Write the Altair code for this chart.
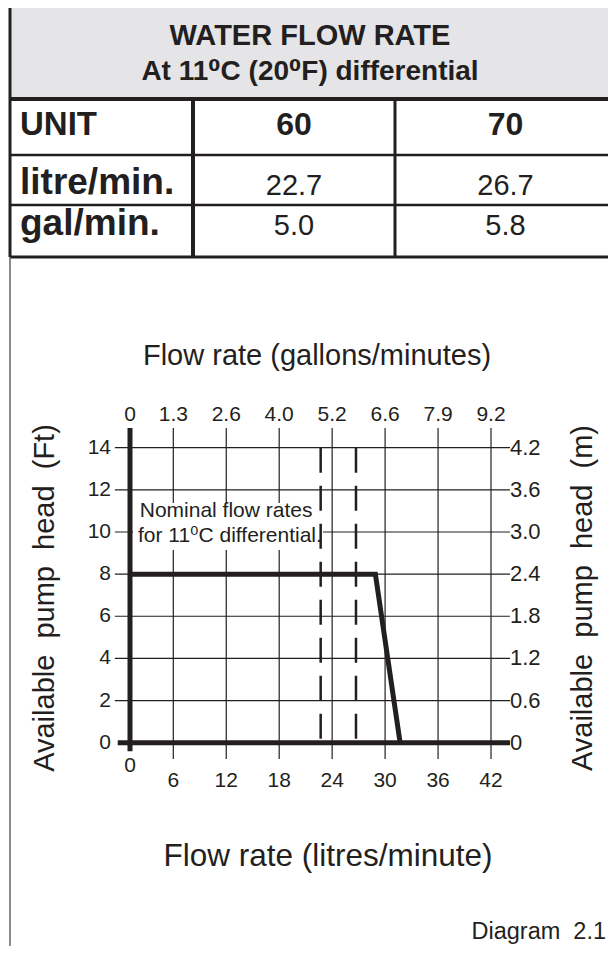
import altair as alt
import pandas as pd

# ---------------- data ----------------
title_lines = ["WATER FLOW RATE", "At 11\u2070C (20\u2070F) differential"]
row_labels = ["UNIT", "litre/min.", "gal/min."]
units = ["60", "70"]
litre_per_min = ["22.7", "26.7"]
gal_per_min = ["5.0", "5.8"]

nominal_lpm = [22.7, 26.7]
note_lines = ["Nominal flow rates", "for 11\u2070C differential."]

litre_ticks = [0, 6, 12, 18, 24, 30, 36, 42]
gallon_labels = ["0", "1.3", "2.6", "4.0", "5.2", "6.6", "7.9", "9.2"]
ft_ticks = [0, 2, 4, 6, 8, 10, 12, 14]
m_labels = ["0", "0.6", "1.2", "1.8", "2.4", "3.0", "3.6", "4.2"]

curve_lpm = [0, 28.9, 31.7]
curve_ft = [8, 8, 0]

# ---------------- style / layout ----------------
INK = "#231f20"
FONT = "Liberation Sans, Arial, DejaVu Sans, sans-serif"

XS = alt.Scale(domain=[0, 6, 42], range=[122, 165.3, 483], zero=False, nice=False)
YS = alt.Scale(domain=[0, 14], range=[734.7, 439.7], zero=False, nice=False)
CS = alt.Scale(domain=[0, 1, 2, 3], range=[2, 185, 387, 608], zero=False, nice=False)
RS = alt.Scale(domain=[0, 1, 2, 3, 4], range=[-2, 91, 147, 197, 249], zero=False, nice=False)

GX0, GX1 = -2.1, 44.15   # grid extent (litres/min)
GY0, GY1 = -0.77, 14.94  # grid extent (ft)


def xq(f, s=XS):
    return alt.X(f, type="quantitative", scale=s, axis=None)


def yq(f, s=YS):
    return alt.Y(f, type="quantitative", scale=s, axis=None)


layers = []

# ---- table ----
band = pd.DataFrame({"c0": [0], "c1": [3], "r0": [0], "r1": [1]})
layers.append(alt.Chart(band).mark_rect(fill="#e5e5e7").encode(
    x=xq("c0", CS), x2="c1:Q", y=yq("r0", RS), y2="r1:Q"))

hlines = pd.DataFrame({"r": [0, 1, 2, 3, 4], "c0": 0, "c1": 3,
                       "w": [3, 4, 2.5, 2.5, 3]})
layers.append(alt.Chart(hlines).mark_rule(color=INK).encode(
    y=yq("r", RS), x=xq("c0", CS), x2="c1:Q",
    strokeWidth=alt.StrokeWidth("w:Q", scale=None)))

vlines = pd.DataFrame({"c": [0, 1, 2], "r0": [0, 1, 1], "r1": [4, 4, 4],
                       "w": [3, 4, 3]})
layers.append(alt.Chart(vlines).mark_rule(color=INK).encode(
    x=xq("c", CS), y=yq("r0", RS), y2="r1:Q",
    strokeWidth=alt.StrokeWidth("w:Q", scale=None)))

panel = pd.DataFrame({"c": [0], "r0": [4], "r1": [4 + 697 / 52]})
layers.append(alt.Chart(panel).mark_rule(color="#666666", strokeWidth=1.5).encode(
    x=xq("c", CS), y=yq("r0", RS), y2="r1:Q"))

tt = pd.DataFrame({"t": title_lines, "y": [37, 72], "s": [29, 28]})
layers.append(alt.Chart(tt).mark_text(font=FONT, fontWeight="bold",
                                      color=INK, align="center", baseline="alphabetic").encode(
    x=alt.value(302), y=alt.Y("y:Q", scale=None), text="t:N",
    size=alt.Size("s:Q", scale=None)))

rl = pd.DataFrame({"t": row_labels, "r": [1.64, 2.78, 3.58], "s": [33, 37, 37], "c": 0})
layers.append(alt.Chart(rl).mark_text(font=FONT, fontWeight="bold",
                                      color=INK, align="left", baseline="alphabetic", dx=10).encode(
    x=xq("c", CS), y=yq("r", RS), text="t:N", size=alt.Size("s:Q", scale=None)))

u = pd.DataFrame({"t": units, "c": [1.5, 2.5], "r": 1.64})
layers.append(alt.Chart(u).mark_text(font=FONT, fontSize=32, fontWeight="bold",
                                     color=INK, align="center", baseline="alphabetic").encode(
    x=xq("c", CS), y=yq("r", RS), text="t:N"))

vals = pd.DataFrame({"t": litre_per_min + gal_per_min, "c": [1.5, 2.5, 1.5, 2.5],
                     "r": [2.79, 2.79, 3.58, 3.58]})
layers.append(alt.Chart(vals).mark_text(font=FONT, fontSize=29, color=INK,
                                        align="center", baseline="alphabetic").encode(
    x=xq("c", CS), y=yq("r", RS), text="t:N"))

# ---- diagram ----
hgrid = pd.DataFrame({"ft": ft_ticks[1:], "x0": GX0, "x1": GX1})
layers.append(alt.Chart(hgrid).mark_rule(color=INK, strokeWidth=1.2).encode(
    x=xq("x0"), x2="x1:Q", y=yq("ft")))

vgrid = pd.DataFrame({"lpm": litre_ticks[1:], "y0": GY0, "y1": GY1})
layers.append(alt.Chart(vgrid).mark_rule(color=INK, strokeWidth=1.2).encode(
    x=xq("lpm"), y=yq("y0"), y2="y1:Q"))

box = pd.DataFrame({"x0": [0.42], "x1": [22.96], "y0": [9.15], "y1": [11.38]})
layers.append(alt.Chart(box).mark_rect(fill="white").encode(
    x=xq("x0"), x2="x1:Q", y=yq("y0"), y2="y1:Q"))

note = pd.DataFrame({"t": note_lines, "x": [1.35, 1.1], "y": [11.0, 9.8]})
layers.append(alt.Chart(note).mark_text(font=FONT, fontSize=21, color=INK,
                                        align="left", baseline="middle").encode(
    x=xq("x"), y=yq("y"), text="t:N"))

dash = pd.DataFrame({"lpm": nominal_lpm, "top": 14, "bot": 0})
layers.append(alt.Chart(dash).mark_rule(color=INK, strokeWidth=2.5,
                                        strokeDash=[25, 13]).encode(
    x=xq("lpm"), y=yq("top"), y2="bot:Q"))

vaxis = pd.DataFrame({"x": [0], "y0": [-0.4], "y1": [GY1]})
layers.append(alt.Chart(vaxis).mark_rule(color=INK, strokeWidth=5).encode(
    x=xq("x"), y=yq("y0"), y2="y1:Q"))

haxis = pd.DataFrame({"y": [0], "x0": [-1.7], "x1": [GX1]})
layers.append(alt.Chart(haxis).mark_rule(color=INK, strokeWidth=5).encode(
    y=yq("y"), x=xq("x0"), x2="x1:Q"))

curve = pd.DataFrame({"lpm": curve_lpm, "ft": curve_ft, "i": range(len(curve_lpm))})
layers.append(alt.Chart(curve).mark_line(color=INK, strokeWidth=5,
                                         strokeJoin="miter").encode(
    x=xq("lpm"), y=yq("ft"), order="i:Q"))

# tick labels
top = pd.DataFrame({"lpm": litre_ticks, "t": gallon_labels})
layers.append(alt.Chart(top).mark_text(font=FONT, fontSize=21, color=INK,
                                       baseline="middle").encode(
    x=xq("lpm"), y=alt.value(407), text="t:N"))

left = pd.DataFrame({"ft": ft_ticks, "t": [str(v) for v in ft_ticks]})
layers.append(alt.Chart(left).mark_text(font=FONT, fontSize=21, color=INK,
                                        align="right", baseline="middle").encode(
    x=alt.value(103), y=yq("ft"), text="t:N"))

right = pd.DataFrame({"ft": ft_ticks, "t": m_labels})
layers.append(alt.Chart(right).mark_text(font=FONT, fontSize=22, color=INK,
                                         align="left", baseline="middle").encode(
    x=alt.value(502), y=yq("ft"), text="t:N"))

bot = pd.DataFrame({"lpm": litre_ticks[1:], "t": [str(v) for v in litre_ticks[1:]]})
layers.append(alt.Chart(bot).mark_text(font=FONT, fontSize=21, color=INK,
                                       baseline="middle").encode(
    x=xq("lpm"), y=alt.value(773), text="t:N"))

bot0 = pd.DataFrame({"lpm": litre_ticks[:1], "t": [str(litre_ticks[0])]})
layers.append(alt.Chart(bot0).mark_text(font=FONT, fontSize=21, color=INK,
                                        baseline="middle").encode(
    x=xq("lpm"), y=alt.value(758), text="t:N"))

# titles
NB = "\u00a0 "
titles = pd.DataFrame({
    "t": ["Flow rate (gallons/minutes)", "Flow rate (litres/minute)",
          "Available" + NB + "pump" + NB + "head" + NB + "(Ft)",
          "Available" + NB + "pump" + NB + "head" + NB + "(m)"],
    "px": [309, 320, 37, 575], "py": [348, 849, 590, 590], "a": [0, 0, 270, 270],
    "s": [29, 31.5, 29, 29]})
layers.append(alt.Chart(titles).mark_text(font=FONT, color=INK,
                                          align="center", baseline="middle").encode(
    x=alt.X("px:Q", scale=None), y=alt.Y("py:Q", scale=None), text="t:N",
    angle=alt.Angle("a:Q", scale=None), size=alt.Size("s:Q", scale=None)))

diag = pd.DataFrame({"t": ["Diagram" + NB + "2.1"]})
layers.append(alt.Chart(diag).mark_text(font=FONT, fontSize=23.5, color=INK,
                                        align="right", baseline="middle").encode(
    x=alt.value(598), y=alt.value(924), text="t:N"))

chart = alt.layer(*layers).resolve_scale(x="independent", y="independent").properties(
    width=600, height=938, padding=0,
    autosize=alt.AutoSizeParams(type="none"),
    background="white",
).configure_view(stroke=None)

chart.save("out.html", embed_options={"renderer": "svg", "actions": False})
